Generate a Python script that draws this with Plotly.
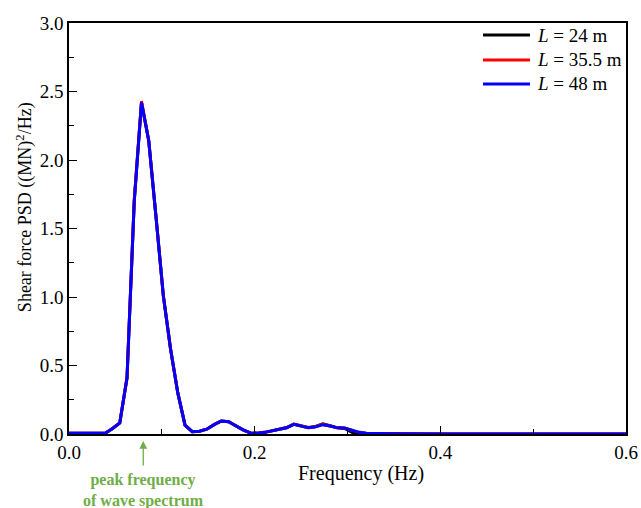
import plotly.graph_objects as go

# Frequency grid (Hz)
freq = [0.0, 0.0078, 0.0156, 0.0234, 0.0313, 0.0391, 0.0469, 0.0547, 0.0625, 0.0703,
        0.0781, 0.0859, 0.0938, 0.1016, 0.1094, 0.1172, 0.125, 0.1328, 0.1406, 0.1484,
        0.1563, 0.1641, 0.1719, 0.1797, 0.1875, 0.1953, 0.2031, 0.2109, 0.2188, 0.2266,
        0.2344, 0.2422, 0.25, 0.2578, 0.2656, 0.2734, 0.2813, 0.2891, 0.2969, 0.3047,
        0.3125, 0.3203, 0.3281, 0.3359, 0.35, 0.4, 0.5, 0.6]

# Shear force PSD ((MN)^2/Hz)
psd_L24 = [0.005, 0.005, 0.004, 0.003, 0.003, 0.006, 0.04, 0.08, 0.41, 1.70,
           2.42, 2.14, 1.58, 1.01, 0.62, 0.30, 0.065, 0.017, 0.02, 0.035,
           0.068, 0.095, 0.09, 0.06, 0.03, 0.008, 0.005, 0.012, 0.022, 0.032,
           0.047, 0.072, 0.062, 0.047, 0.055, 0.075, 0.06, 0.045, 0.04, 0.012,
           0.006, 0.004, 0.003, 0.002, 0.001, 0.0005, 0.0003, 0.0002]
psd_L355 = [0.005, 0.005, 0.004, 0.003, 0.003, 0.006, 0.04, 0.08, 0.41, 1.71,
            2.43, 2.14, 1.58, 1.01, 0.62, 0.30, 0.065, 0.017, 0.02, 0.035,
            0.068, 0.095, 0.09, 0.06, 0.03, 0.008, 0.005, 0.012, 0.022, 0.031,
            0.046, 0.071, 0.061, 0.046, 0.053, 0.07, 0.059, 0.045, 0.043, 0.03,
            0.012, 0.005, 0.003, 0.002, 0.001, 0.0005, 0.0003, 0.0002]
psd_L48 = [0.005, 0.005, 0.004, 0.003, 0.003, 0.006, 0.04, 0.08, 0.41, 1.70,
           2.42, 2.14, 1.58, 1.01, 0.62, 0.30, 0.065, 0.017, 0.02, 0.035,
           0.068, 0.095, 0.09, 0.06, 0.03, 0.008, 0.005, 0.012, 0.022, 0.03,
           0.045, 0.07, 0.06, 0.045, 0.052, 0.068, 0.058, 0.045, 0.043, 0.03,
           0.012, 0.005, 0.003, 0.002, 0.001, 0.0005, 0.0003, 0.0002]

series_names = ["<i>L</i> = 24 m", "<i>L</i> = 35.5 m", "<i>L</i> = 48 m"]
series_values = [psd_L24, psd_L355, psd_L48]
series_colors = ["#000000", "#ff0000", "#0000ff"]

x_title = "Frequency (Hz)"
y_title = "Shear force PSD ((MN)<sup>2</sup>/Hz)"
peak_label = "<b>peak frequency<br>of wave spectrum</b>"
peak_freq = 0.08

FONT = "Liberation Serif, Times New Roman, serif"
GREEN = "#70ad47"

fig = go.Figure()
for name, vals, col in zip(series_names, series_values, series_colors):
    fig.add_trace(go.Scatter(x=freq, y=vals, mode="lines", name=name,
                             line=dict(color=col, width=3), showlegend=False))

axis_common = dict(
    showline=True, linecolor="black", linewidth=1.5, mirror=True,
    ticks="inside", ticklen=8, tickwidth=1.2, tickcolor="black",
    showgrid=False, zeroline=False, automargin=False,
    tickfont=dict(family=FONT, size=19, color="black"),
)

fig.update_xaxes(range=[0, 0.6], dtick=0.2, tickformat=".1f",
                 minor=dict(dtick=0.1, ticks="inside", ticklen=5, tickcolor="black", tickwidth=1.2),
                 **axis_common)
fig.update_yaxes(range=[0, 3.0], dtick=0.5, tickformat=".1f",
                 minor=dict(dtick=0.25, ticks="inside", ticklen=5, tickcolor="black", tickwidth=1.2),
                 **axis_common)

# axis titles
fig.add_annotation(x=0.524, y=-0.095, xref="paper", yref="paper", text=x_title,
                   showarrow=False, xanchor="center", yanchor="middle",
                   font=dict(family=FONT, size=20, color="black"))
fig.add_annotation(x=-0.079, y=0.552, xref="paper", yref="paper", text=y_title,
                   showarrow=False, xanchor="center", yanchor="middle", textangle=-90,
                   font=dict(family=FONT, size=18, color="black"))

# legend drawn in the upper right corner
leg_y = [0.9708, 0.9100, 0.8516]
for name, col, ly in zip(series_names, series_colors, leg_y):
    fig.add_shape(type="line", xref="paper", yref="paper",
                  x0=0.7433, x1=0.8276, y0=ly, y1=ly,
                  line=dict(color=col, width=3))
    fig.add_annotation(x=0.8366, y=ly, xref="paper", yref="paper", text=name,
                       showarrow=False, xanchor="left", yanchor="middle",
                       font=dict(family=FONT, size=19, color="black"))

# arrow pointing to peak frequency
fig.add_annotation(x=peak_freq, y=-0.017, xref="x", yref="paper", text="",
                   showarrow=True, arrowhead=2, arrowsize=1.2, arrowwidth=1.3,
                   arrowcolor=GREEN, ax=0, ay=26)
fig.add_annotation(x=peak_freq, y=-0.138, xref="x", yref="paper",
                   text=peak_label, showarrow=False,
                   font=dict(family=FONT, size=16, color=GREEN),
                   xanchor="center", yanchor="middle")

fig.update_layout(
    width=641, height=508,
    margin=dict(l=69, r=15, t=23, b=74),
    paper_bgcolor="white", plot_bgcolor="white",
    font=dict(family=FONT, size=19, color="black"),
    showlegend=False,
)

fig.write_html("out.html", config={"displayModeBar": False},
               post_script="document.body.style.margin='0px';document.body.style.overflow='hidden';")
